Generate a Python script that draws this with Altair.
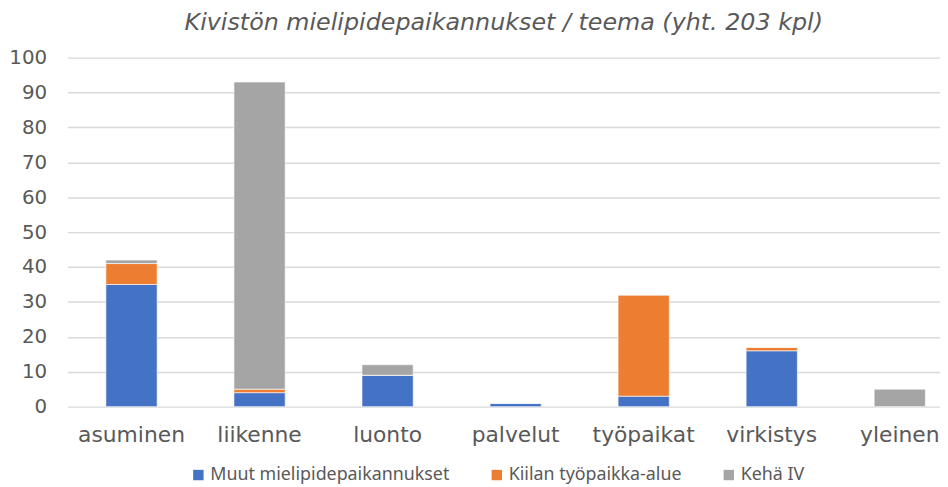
import altair as alt
import pandas as pd

categories = ["asuminen", "liikenne", "luonto", "palvelut", "työpaikat", "virkistys", "yleinen"]
series = ["Muut mielipidepaikannukset", "Kiilan työpaikka-alue", "Kehä IV"]
muut = [35, 4, 9, 1, 3, 16, 0]
kiila = [6, 1, 0, 0, 29, 1, 0]
keha = [1, 88, 3, 0, 0, 0, 5]
colors = ["#4472C4", "#ED7D31", "#A5A5A5"]
y_ticks = [0, 10, 20, 30, 40, 50, 60, 70, 80, 90, 100]

rows = []
for si, (name, vals) in enumerate(zip(series, [muut, kiila, keha])):
    for c, v in zip(categories, vals):
        rows.append({"teema": c, "sarja": name, "arvo": v, "jarj": si})
df = pd.DataFrame(rows)

AXIS_FONT = "DejaVu Sans"
TXT = "#595959"

chart = alt.Chart(df).mark_bar(stroke="white", strokeWidth=0.6).encode(
    x=alt.X("teema:N", sort=categories,
            scale=alt.Scale(range=[0, 904], paddingInner=0.6, paddingOuter=0.3),
            axis=alt.Axis(title=None, labelAngle=0, ticks=False, domain=False,
                          labelFont=AXIS_FONT, labelFontSize=22, labelColor=TXT,
                          labelPadding=18, grid=False)),
    y=alt.Y("arvo:Q", stack="zero",
            scale=alt.Scale(domain=[0, 100], nice=False),
            axis=alt.Axis(title=None, values=y_ticks, ticks=False, domain=False,
                          labelFont=AXIS_FONT, labelFontSize=20, labelColor=TXT,
                          labelPadding=21, gridColor="#D9D9D9", gridWidth=1.5)),
    color=alt.Color("sarja:N", sort=series,
                    scale=alt.Scale(domain=series, range=colors),
                    legend=alt.Legend(title=None, orient="none", direction="horizontal",
                                      legendX=123, legendY=412,
                                      symbolType="square", symbolSize=110,
                                      symbolStrokeWidth=0, labelLimit=400,
                                      labelFont="Noto Sans", labelFontSize=18,
                                      labelColor=TXT, labelOffset=3,
                                      columnPadding=38)),
    order=alt.Order("jarj:Q", sort="ascending"),
).properties(
    width=880,
    height=352,
    title=alt.TitleParams("Kivistön mielipidepaikannukset / teema (yht. 203 kpl)",
                          font=AXIS_FONT, fontSize=24, fontStyle="italic",
                          fontWeight="normal", color=TXT, offset=13, anchor="middle"),
    autosize=alt.AutoSizeParams(type="none"),
    padding={"left": 60, "top": 48, "right": 0, "bottom": 78},
).configure_view(stroke=None)

chart.save("out.html", embed_options={"renderer": "svg", "actions": False})
